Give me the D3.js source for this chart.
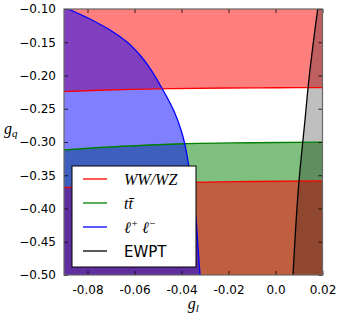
<!DOCTYPE html>
<html><head><meta charset="utf-8">
<script src="https://cdn.jsdelivr.net/npm/d3@7"></script>
<style>body{margin:0;background:#fff}</style>
</head><body>
<script>
// ---- data (g_l, g_q) ----
const xTicks = [-0.08, -0.06, -0.04, -0.02, 0.0, 0.02];
const xTickLabels = ["-0.08", "-0.06", "-0.04", "-0.02", "0.0", "0.02"];
const yTicks = [-0.10, -0.15, -0.20, -0.25, -0.30, -0.35, -0.40, -0.45, -0.50];
const yTickLabels = ["\u22120.10", "\u22120.15", "\u22120.20", "\u22120.25", "\u22120.30", "\u22120.35", "\u22120.40", "\u22120.45", "\u22120.50"];
const redUpper = [[-0.09,-0.2243],[-0.075,-0.2222],[-0.06,-0.2208],[-0.045,-0.2197],[-0.02,-0.2188],[0.0,-0.2184],[0.02,-0.2183]];
const redLower = [[-0.09,-0.3686],[-0.075,-0.3655],[-0.06,-0.3632],[-0.045,-0.3615],[-0.03,-0.3603],[-0.01,-0.3594],[0.02,-0.3586]];
const greenLine = [[-0.09,-0.3120],[-0.0747,-0.3083],[-0.0534,-0.3045],[-0.0394,-0.3026],[-0.0109,-0.3011],[0.02,-0.3002]];
const blueCurve = [[-0.0882,-0.1],[-0.0775,-0.1176],[-0.0704,-0.1316],[-0.0633,-0.1492],[-0.0577,-0.1692],[-0.0534,-0.1892],[-0.0491,-0.2143],[-0.0460,-0.2338],[-0.0434,-0.2519],[-0.0402,-0.2820],[-0.0385,-0.3045],[-0.0371,-0.3316],[-0.0355,-0.3647],[-0.0338,-0.4173],[-0.0326,-0.4774],[-0.0321,-0.5]];
const ewptCurve = [[0.01796,-0.1],[0.01383,-0.2188],[0.01255,-0.2669],[0.0100,-0.3586],[0.00745,-0.5]];
const xDomain = [-0.09, 0.02];
const yDomain = [-0.5, -0.1];
const legendItems = [
  {key:"ww", color:"#ff0000"},
  {key:"tt", color:"#008000"},
  {key:"ll", color:"#0000ff"},
  {key:"ewpt", color:"#000000"}
];

const W = 338, H = 315;
const L = 64, R = 322.5, T = 9, B = 275;
const svg = d3.select("body").append("svg").attr("width", W).attr("height", H);
const x = d3.scaleLinear(xDomain, [L, R]);
const y = d3.scaleLinear(yDomain, [B, T]);

svg.append("clipPath").attr("id","clip").append("rect")
  .attr("x", L).attr("y", T).attr("width", R-L).attr("height", B-T);
const g = svg.append("g").attr("clip-path","url(#clip)");

const curve = d3.curveMonotoneX;
// green: below green line
g.append("path").datum(greenLine)
  .attr("d", d3.area().x(d=>x(d[0])).y0(y(yDomain[0])).y1(d=>y(d[1])).curve(curve))
  .attr("fill", "#008000").attr("fill-opacity", 0.5);
// red: above upper line, below lower line
g.append("path").datum(redUpper)
  .attr("d", d3.area().x(d=>x(d[0])).y0(y(yDomain[1])).y1(d=>y(d[1])).curve(curve))
  .attr("fill", "#ff0000").attr("fill-opacity", 0.5);
g.append("path").datum(redLower)
  .attr("d", d3.area().x(d=>x(d[0])).y0(y(yDomain[0])).y1(d=>y(d[1])).curve(curve))
  .attr("fill", "#ff0000").attr("fill-opacity", 0.5);
// blue: left of curve
g.append("path").datum(blueCurve)
  .attr("d", d3.area().y(d=>y(d[1])).x0(x(xDomain[0])).x1(d=>x(d[0])).curve(d3.curveMonotoneY))
  .attr("fill", "#0000ff").attr("fill-opacity", 0.5);
// gray: right of EWPT
g.append("path").datum(ewptCurve)
  .attr("d", d3.area().y(d=>y(d[1])).x0(d=>x(d[0])).x1(x(xDomain[1])).curve(d3.curveMonotoneY))
  .attr("fill", "#000000").attr("fill-opacity", 0.25);

const lineX = d3.line().x(d=>x(d[0])).y(d=>y(d[1])).curve(curve);
const lineY = d3.line().x(d=>x(d[0])).y(d=>y(d[1])).curve(d3.curveMonotoneY);
g.append("path").datum(greenLine).attr("d", lineX).attr("fill","none").attr("stroke","#008000").attr("stroke-width",1.3);
g.append("path").datum(redUpper).attr("d", lineX).attr("fill","none").attr("stroke","#ff0000").attr("stroke-width",1.3);
g.append("path").datum(redLower).attr("d", lineX).attr("fill","none").attr("stroke","#ff0000").attr("stroke-width",1.3);
g.append("path").datum(blueCurve).attr("d", lineY).attr("fill","none").attr("stroke","#0000ff").attr("stroke-width",1.3);
g.append("path").datum(ewptCurve).attr("d", lineY).attr("fill","none").attr("stroke","#000000").attr("stroke-width",1.3);

// axes
const tickFont = "'DejaVu Sans', sans-serif";
function styleAxis(sel, showLabels){
  sel.select(".domain").remove();
  sel.selectAll(".tick line").attr("stroke","#000").attr("stroke-width",0.8);
  sel.selectAll(".tick text").attr("font-family", tickFont).attr("font-size", 12).attr("fill","#000");
  if(!showLabels) sel.selectAll(".tick text").remove();
}
const ax = svg.append("g").attr("transform",`translate(0,${B})`)
  .call(d3.axisBottom(x).tickValues(xTicks).tickSize(-4).tickPadding(10).tickFormat((d,i)=>xTickLabels[i]));
styleAxis(ax, true);
const axT = svg.append("g").attr("transform",`translate(0,${T})`)
  .call(d3.axisTop(x).tickValues(xTicks).tickSize(-4));
styleAxis(axT, false);
const ay = svg.append("g").attr("transform",`translate(${L},0)`)
  .call(d3.axisLeft(y).tickValues(yTicks).tickSize(-4).tickPadding(8).tickFormat((d,i)=>yTickLabels[i]));
styleAxis(ay, true);
const ayR = svg.append("g").attr("transform",`translate(${R},0)`)
  .call(d3.axisRight(y).tickValues(yTicks).tickSize(-4));
styleAxis(ayR, false);

svg.append("rect").attr("x",L).attr("y",T).attr("width",R-L).attr("height",B-T)
  .attr("fill","none").attr("stroke","#666").attr("stroke-width",1.2);

// axis labels
const mathFont = "'Liberation Serif', 'DejaVu Serif', serif";
const xl = svg.append("text").attr("x",(L+R)/2).attr("y",309).attr("text-anchor","middle")
  .attr("font-family",mathFont).attr("font-style","italic").attr("font-size",16);
xl.append("tspan").text("g");
xl.append("tspan").attr("font-size",11).attr("dy",3).text("l");
const yl = svg.append("text").attr("x",4).attr("y",134)
  .attr("font-family",mathFont).attr("font-style","italic").attr("font-size",16);
yl.append("tspan").text("g");
yl.append("tspan").attr("font-size",11).attr("dy",3).text("q");

// legend
const lg = svg.append("g");
lg.append("rect").attr("x",72).attr("y",166).attr("width",124).attr("height",101)
  .attr("fill","#fff").attr("stroke","#000").attr("stroke-width",1);
const rowY = d3.scalePoint().domain(legendItems.map(d=>d.key)).range([179, 251]);
legendItems.forEach(it=>{
  const yy = rowY(it.key);
  lg.append("line").attr("x1",83).attr("x2",107).attr("y1",yy).attr("y2",yy)
    .attr("stroke",it.color).attr("stroke-width",1.3);
  if(it.key==="ewpt"){
    lg.append("text").attr("x",124).attr("y",yy+5.5).attr("font-family",tickFont).attr("font-size",15).text("EWPT");
  } else {
    const t = lg.append("text").attr("x",124).attr("y",yy+5.5).attr("font-family",mathFont)
      .attr("font-style","italic").attr("font-size",16);
    if(it.key==="ww") t.text("WW/WZ");
    else if(it.key==="tt") t.text("tt\u0304");
    else {
      t.append("tspan").text("\u2113");
      t.append("tspan").attr("font-size",11).attr("dy",-6).text("+");
      t.append("tspan").attr("dy",6).text(" \u2113");
      t.append("tspan").attr("font-size",11).attr("dy",-6).text("\u2212");
    }
  }
});
</script>
</body></html>
